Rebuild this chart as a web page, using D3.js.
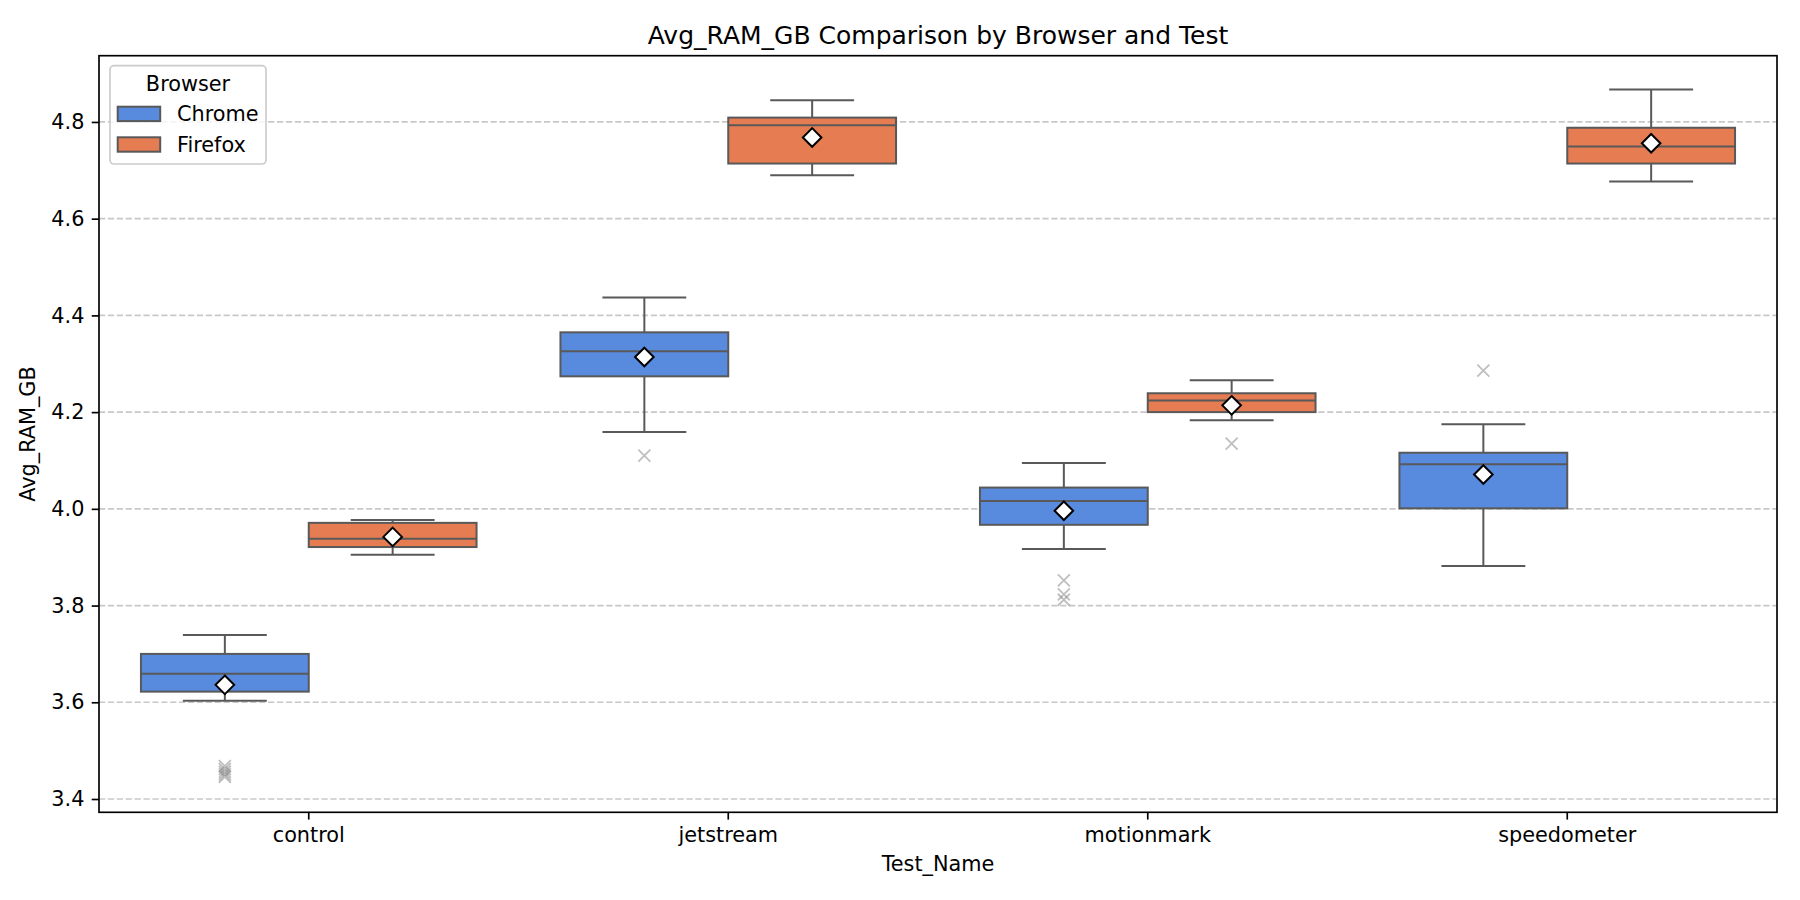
<!DOCTYPE html>
<html>
<head>
<meta charset="utf-8">
<script src="https://cdn.jsdelivr.net/npm/d3@7"></script>
<style>
  html, body { margin: 0; padding: 0; background: #fff; }
  svg { display: block; font-family: "DejaVu Sans", sans-serif; }
</style>
</head>
<body>
<svg id="chart" width="1800" height="900"></svg>
<script>
// ---------- data ----------
const tests = ["control", "jetstream", "motionmark", "speedometer"];
const browsers = ["Chrome", "Firefox"];
const browserColors = ["#588ade", "#e67c52"];
const yTicks = [3.4, 3.6, 3.8, 4.0, 4.2, 4.4, 4.6, 4.8];

// [lower whisker, Q1, median, Q3, upper whisker] per test
const chromeStats = [
  [3.603, 3.622, 3.659, 3.700, 3.739],
  [4.159, 4.274, 4.326, 4.365, 4.437],
  [3.917, 3.967, 4.016, 4.044, 4.095],
  [3.882, 4.001, 4.092, 4.116, 4.175]
];
const chromeMeans = [3.636, 4.314, 3.996, 4.071];
const chromeOutliers = [
  [3.468, 3.462, 3.456, 3.451, 3.446],
  [4.110],
  [3.852, 3.823, 3.812],
  [4.286]
];

const firefoxStats = [
  [3.905, 3.921, 3.938, 3.971, 3.977],
  [4.690, 4.714, 4.793, 4.809, 4.845],
  [4.183, 4.200, 4.224, 4.239, 4.266],
  [4.677, 4.714, 4.749, 4.788, 4.867]
];
const firefoxMeans = [3.942, 4.768, 4.214, 4.756];
const firefoxOutliers = [
  [],
  [],
  [4.135],
  []
];

// ---------- layout ----------
const svg = d3.select("#chart");
const L = 99, R = 1777, T = 55.7, B = 812.3;
const lineColor = "#595959";

const x = d3.scaleBand().domain(tests).range([L, R]).padding(0);
const hue = d3.scaleBand().domain(browsers).range([0, x.bandwidth() * 0.8]);
const y = d3.scaleLinear().domain([3.3725, 4.937]).range([B, T]);
const color = d3.scaleOrdinal().domain(browsers).range(browserColors);

// grid
svg.append("g").selectAll("line").data(yTicks).join("line")
  .attr("x1", L).attr("x2", R)
  .attr("y1", d => y(d)).attr("y2", d => y(d))
  .attr("stroke", "#b0b0b0").attr("stroke-opacity", 0.7)
  .attr("stroke-width", 1.67).attr("stroke-dasharray", "6.2,2.7");

// boxes
const groups = [];
browsers.forEach((b, bi) => {
  const stats = bi === 0 ? chromeStats : firefoxStats;
  const means = bi === 0 ? chromeMeans : firefoxMeans;
  const outs = bi === 0 ? chromeOutliers : firefoxOutliers;
  tests.forEach((t, ti) => {
    groups.push({ browser: b, test: t, s: stats[ti], mean: means[ti], out: outs[ti] });
  });
});

const boxW = hue.bandwidth();
const gBoxes = svg.append("g");
groups.forEach(d => {
  const x0 = x(d.test) + x.bandwidth() * 0.1 + hue(d.browser);
  const cx = x0 + boxW / 2;
  const g = gBoxes.append("g");
  const [lo, q1, med, q3, hi] = d.s;
  // whiskers
  g.append("line").attr("x1", cx).attr("x2", cx).attr("y1", y(q3)).attr("y2", y(hi))
    .attr("stroke", lineColor).attr("stroke-width", 2);
  g.append("line").attr("x1", cx).attr("x2", cx).attr("y1", y(q1)).attr("y2", y(lo))
    .attr("stroke", lineColor).attr("stroke-width", 2);
  // caps
  [lo, hi].forEach(v => {
    g.append("line").attr("x1", cx - boxW / 4).attr("x2", cx + boxW / 4)
      .attr("y1", y(v)).attr("y2", y(v))
      .attr("stroke", lineColor).attr("stroke-width", 2);
  });
  // box
  g.append("rect").attr("x", x0).attr("width", boxW)
    .attr("y", y(q3)).attr("height", y(q1) - y(q3))
    .attr("fill", color(d.browser)).attr("stroke", lineColor).attr("stroke-width", 2);
  // median
  g.append("line").attr("x1", x0).attr("x2", x0 + boxW)
    .attr("y1", y(med)).attr("y2", y(med))
    .attr("stroke", lineColor).attr("stroke-width", 2);
  // outliers
  const xs = 6;
  d.out.forEach(v => {
    g.append("path")
      .attr("d", `M${cx - xs},${y(v) - xs}L${cx + xs},${y(v) + xs}M${cx - xs},${y(v) + xs}L${cx + xs},${y(v) - xs}`)
      .attr("stroke", "gray").attr("stroke-opacity", 0.5).attr("stroke-width", 1.8).attr("fill", "none");
  });
  // mean diamond
  const m = 9.3, my = y(d.mean);
  g.append("path")
    .attr("d", `M${cx},${my - m}L${cx + m},${my}L${cx},${my + m}L${cx - m},${my}Z`)
    .attr("fill", "white").attr("stroke", "black").attr("stroke-width", 2);
});

// axes
const fs = 20.8;
const xAxis = svg.append("g").attr("transform", `translate(0,${B})`)
  .call(d3.axisBottom(x).tickSize(7.3).tickPadding(7.3).tickSizeOuter(0));
const yAxis = svg.append("g").attr("transform", `translate(${L},0)`)
  .call(d3.axisLeft(y).tickValues(yTicks).tickFormat(d3.format(".1f")).tickSize(7.3).tickPadding(7.3).tickSizeOuter(0));
[xAxis, yAxis].forEach(a => {
  a.select(".domain").remove();
  a.selectAll(".tick line").attr("stroke", "#000").attr("stroke-width", 1.67);
  a.selectAll(".tick text").attr("fill", "#000").style("font-size", fs + "px")
    .style("font-family", "DejaVu Sans, sans-serif");
});

// spines
svg.append("rect").attr("x", L).attr("y", T).attr("width", R - L).attr("height", B - T)
  .attr("fill", "none").attr("stroke", "#000").attr("stroke-width", 1.67);

// labels
svg.append("text").attr("x", (L + R) / 2).attr("y", 44).attr("text-anchor", "middle")
  .style("font-size", "25px").text("Avg_RAM_GB Comparison by Browser and Test");
svg.append("text").attr("x", (L + R) / 2).attr("y", 871).attr("text-anchor", "middle")
  .style("font-size", fs + "px").text("Test_Name");
svg.append("text").attr("transform", `translate(35,${(T + B) / 2}) rotate(-90)`)
  .attr("text-anchor", "middle").style("font-size", fs + "px").text("Avg_RAM_GB");

// legend
const leg = svg.append("g");
leg.append("rect").attr("x", 110).attr("y", 65.7).attr("width", 156).attr("height", 98.3)
  .attr("rx", 4).attr("fill", "white").attr("fill-opacity", 0.8)
  .attr("stroke", "#cccccc").attr("stroke-width", 1.67);
leg.append("text").attr("x", 188).attr("y", 91).attr("text-anchor", "middle")
  .style("font-size", fs + "px").text("Browser");
browsers.forEach((b, i) => {
  const cy = 113.9 + i * 30.6;
  leg.append("rect").attr("x", 117.7).attr("y", cy - 7.2).attr("width", 42.5).attr("height", 14.4)
    .attr("fill", color(b)).attr("stroke", lineColor).attr("stroke-width", 2);
  leg.append("text").attr("x", 177).attr("y", cy + 7.5)
    .style("font-size", fs + "px").text(b);
});
</script>
</body>
</html>
